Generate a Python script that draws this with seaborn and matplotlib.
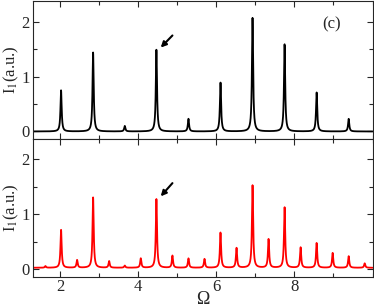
import numpy as np
import pandas as pd
import matplotlib
matplotlib.use("Agg")
import matplotlib.pyplot as plt
from matplotlib.ticker import MultipleLocator
import seaborn as sns

# peak positions / heights
top_centers = [2.03, 2.85, 3.66, 4.47, 5.29, 6.11, 6.93, 7.75, 8.57, 9.39]
top_heights = [0.75, 1.44, 0.10, 1.49, 0.23, 0.89, 2.07, 1.59, 0.71, 0.23]
top_base = 0.0

bot_centers = [1.63, 2.03, 2.44, 2.85, 3.26, 3.66, 4.07, 4.47, 4.88, 5.29, 5.70,
               6.11, 6.52, 6.93, 7.34, 7.75, 8.16, 8.57, 8.98, 9.39, 9.80]
bot_heights = [0.03, 0.69, 0.14, 1.28, 0.12, 0.04, 0.17, 1.25, 0.22, 0.17, 0.16,
               0.64, 0.36, 1.50, 0.52, 1.10, 0.37, 0.45, 0.27, 0.21, 0.08]
bot_base = 0.03

xticks = [2, 4, 6, 8]
yticks = [0, 1, 2]
hwhm = 0.018

omega = np.linspace(1.3, 10.0, 6000)


def espectro(centros, alturas, base):
    y = np.full_like(omega, base)
    for c, h in zip(centros, alturas):
        y += h * hwhm**2 / ((omega - c)**2 + hwhm**2)
    return y


df_top = pd.DataFrame({"Omega": omega, "I": espectro(top_centers, top_heights, top_base)})
df_bot = pd.DataFrame({"Omega": omega, "I": espectro(bot_centers, bot_heights, bot_base)})

sns.set_style("ticks")
plt.rcParams["font.family"] = ["Liberation Serif", "DejaVu Serif"]
plt.rcParams["mathtext.fontset"] = "stix"

fig = plt.figure(figsize=(3.74, 3.08), dpi=100)
ax1 = fig.add_axes([0.087, 0.55, 0.909, 0.447])
ax2 = fig.add_axes([0.087, 0.102, 0.909, 0.448])

sns.lineplot(data=df_top, x="Omega", y="I", ax=ax1, color="black", lw=1.3)
sns.lineplot(data=df_bot, x="Omega", y="I", ax=ax2, color="#ff0000", lw=1.3)

for ax in (ax1, ax2):
    ax.set_xlim(1.3, 10.0)
    ax.set_ylim(-0.13, 2.38)
    ax.set_xticks(xticks)
    ax.set_yticks(yticks)
    ax.xaxis.set_minor_locator(MultipleLocator(1))
    ax.yaxis.set_minor_locator(MultipleLocator(0.5))
    ax.tick_params(which="both", direction="in", top=True, right=True,
                   labelsize=12, width=0.8, pad=2)
    ax.tick_params(which="major", length=4)
    ax.tick_params(which="minor", length=3)
    for s in ax.spines.values():
        s.set_linewidth(0.8)
    ax.set_ylabel(r"I$_1$(a.u.)", fontsize=12)
    ax.yaxis.set_label_coords(-0.035, 0.5)

ax1.set_xlabel("")
ax1.tick_params(labelbottom=False)
ax2.set_xlabel("Ω", fontsize=13, labelpad=-3)

ax1.annotate("", xy=(4.58, 1.53), xytext=(4.88, 1.75),
             arrowprops=dict(arrowstyle="-|>", color="black", lw=1.5,
                             mutation_scale=8, shrinkA=0, shrinkB=0))
ax2.annotate("", xy=(4.58, 1.33), xytext=(4.88, 1.57),
             arrowprops=dict(arrowstyle="-|>", color="black", lw=1.5,
                             mutation_scale=8, shrinkA=0, shrinkB=0))
ax1.text(8.96, 1.96, "(c)", fontsize=12, ha="center", va="center")

fig.savefig("out.png", dpi=100)
